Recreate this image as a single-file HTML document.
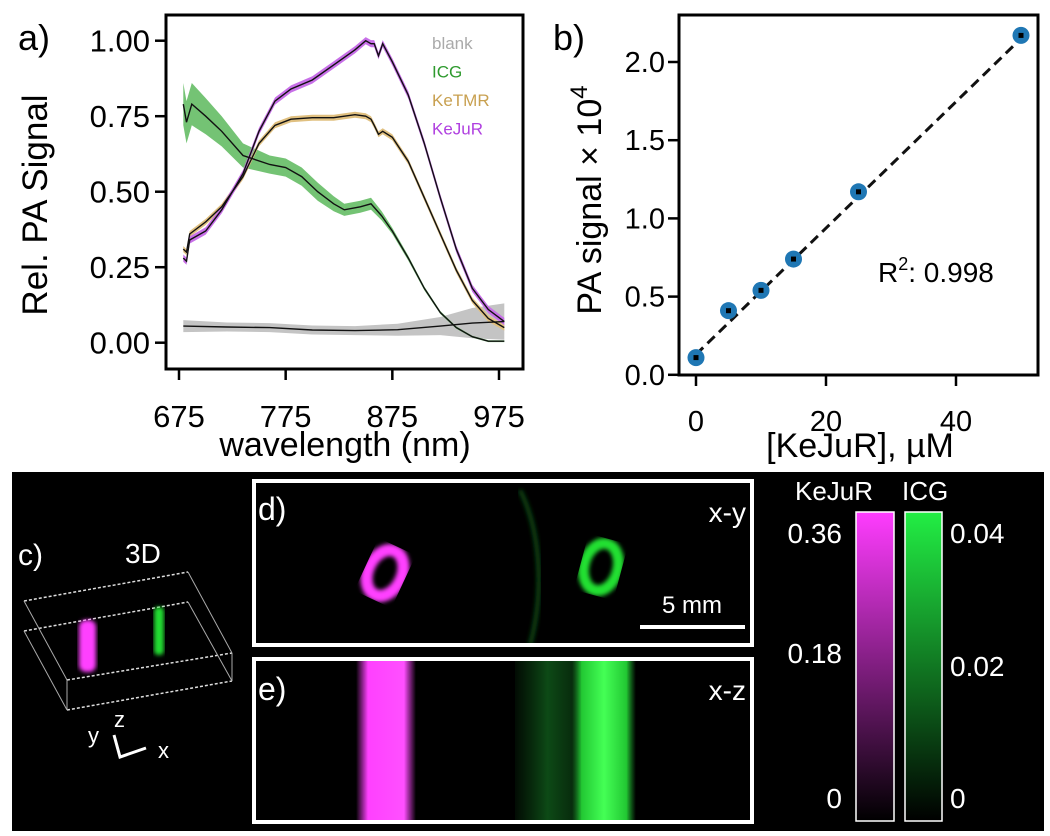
<!DOCTYPE html>
<html><head><meta charset="utf-8"><style>
html,body{margin:0;padding:0;background:#fff;}
svg{display:block;font-family:"Liberation Sans",Arial,sans-serif;}
</style></head><body>
<svg id="fig" width="1050" height="836" viewBox="0 0 1050 836">
<defs>
<filter id="blur2"><feGaussianBlur stdDeviation="2"/></filter>
<linearGradient id="gMag" x1="0" y1="1" x2="0" y2="0"><stop offset="0" stop-color="#000"/><stop offset="1" stop-color="#ff3cff"/></linearGradient>
<linearGradient id="gGrn" x1="0" y1="1" x2="0" y2="0"><stop offset="0" stop-color="#000"/><stop offset="1" stop-color="#22ee44"/></linearGradient>
<linearGradient id="colMag" x1="0" y1="0" x2="1" y2="0"><stop offset="0" stop-color="#ff40ff" stop-opacity="0"/><stop offset="0.2" stop-color="#ff40ff"/><stop offset="0.8" stop-color="#ff50ff"/><stop offset="1" stop-color="#ff40ff" stop-opacity="0"/></linearGradient>
<linearGradient id="colGrn" x1="0" y1="0" x2="1" y2="0"><stop offset="0" stop-color="#1a9a2a" stop-opacity="0"/><stop offset="0.15" stop-color="#22c833"/><stop offset="0.5" stop-color="#44ff55"/><stop offset="0.85" stop-color="#22c833"/><stop offset="1" stop-color="#1a9a2a" stop-opacity="0"/></linearGradient>
<linearGradient id="faint" x1="0" y1="0" x2="1" y2="0"><stop offset="0" stop-color="#0b3d12" stop-opacity="0.2"/><stop offset="0.5" stop-color="#0d4a16"/><stop offset="1" stop-color="#0b3d12" stop-opacity="0.6"/></linearGradient>
</defs>
<g id="panelA"></g>
<g id="panelB"></g>
<g id="bottom">
  <rect x="12" y="472" width="1032" height="359" fill="#000"/>
  <g>
    <text x="18" y="565" fill="#fff" font-size="30">c)</text>
    <text x="125" y="563" fill="#fff" font-size="28">3D</text>
    <g stroke="#ddd" stroke-width="1.5" fill="none" stroke-dasharray="3,2">
      <line x1="24" y1="601" x2="188" y2="572"/>
      <line x1="24" y1="631" x2="188" y2="602"/>
      <line x1="67" y1="680" x2="232" y2="653"/>
      <line x1="67" y1="710" x2="232" y2="681"/>
    </g>
    <g stroke="#aaa" stroke-width="1" fill="none">
      <line x1="24" y1="601" x2="67" y2="680"/>
      <line x1="24" y1="631" x2="67" y2="710"/>
      <line x1="188" y1="572" x2="232" y2="653"/>
      <line x1="188" y1="602" x2="232" y2="681"/>
      <line x1="67" y1="680" x2="67" y2="710"/>
      <line x1="232" y1="653" x2="232" y2="681"/>
    </g>
    <rect x="79" y="620" width="17" height="52" rx="7" fill="#ff40ff" filter="url(#blur2)"/>
    <rect x="154" y="607" width="10" height="48" rx="4" fill="#22dd33" filter="url(#blur2)"/>
    <g stroke="#fff" stroke-width="3" fill="none"><polyline points="114,735 120,757 146,748"/></g>
    <text x="88" y="743" fill="#fff" font-size="22">y</text>
    <text x="114" y="727" fill="#fff" font-size="22">z</text>
    <text x="158" y="758" fill="#fff" font-size="22">x</text>
  </g>
  <g>
    <path d="M520,490 C540,530 545,590 530,645" stroke="#0c4a14" stroke-width="4" fill="none" filter="url(#blur2)"/>
    <ellipse cx="385" cy="573" rx="17" ry="24" fill="none" stroke="#ff40ff" stroke-width="12" transform="rotate(25 385 573)" filter="url(#blur2)"/>
    <ellipse cx="601" cy="567" rx="17" ry="24" fill="none" stroke="#22e033" stroke-width="11" transform="rotate(15 601 567)" filter="url(#blur2)"/>
    <rect x="254" y="481" width="498" height="164" fill="none" stroke="#fff" stroke-width="4"/>
    <text x="258" y="520" fill="#fff" font-size="32">d)</text>
    <text x="746" y="522" fill="#fff" font-size="28" text-anchor="end">x-y</text>
    <line x1="640" y1="627" x2="745" y2="627" stroke="#fff" stroke-width="4"/>
    <text x="692" y="613" fill="#fff" font-size="24" text-anchor="middle">5 mm</text>
  </g>
  <g>
    <rect x="515" y="661" width="65" height="160" fill="url(#faint)"/>
    <rect x="356" y="661" width="60" height="160" fill="url(#colMag)"/>
    <rect x="572" y="661" width="64" height="160" fill="url(#colGrn)"/>
    <rect x="254" y="659" width="498" height="163" fill="none" stroke="#fff" stroke-width="4"/>
    <text x="258" y="700" fill="#fff" font-size="32">e)</text>
    <text x="746" y="700" fill="#fff" font-size="28" text-anchor="end">x-z</text>
  </g>
  <g>
    <text x="795" y="500" fill="#fff" font-size="26">KeJuR</text>
    <text x="902" y="500" fill="#fff" font-size="26">ICG</text>
    <rect x="856" y="512" width="38" height="309" fill="url(#gMag)" stroke="#fff" stroke-width="1.5"/>
    <rect x="905" y="512" width="37" height="309" fill="url(#gGrn)" stroke="#fff" stroke-width="1.5"/>
    <g fill="#fff" font-size="28" text-anchor="end">
      <text x="842" y="543">0.36</text>
      <text x="842" y="663">0.18</text>
      <text x="842" y="808">0</text>
    </g>
    <g fill="#fff" font-size="28">
      <text x="950" y="543">0.04</text>
      <text x="950" y="676">0.02</text>
      <text x="950" y="808">0</text>
    </g>
  </g>
</g>
</svg>
<script>
// ---------- Panel A data ----------
const wlIcg   = [679,682,687,700,715,735,760,775,790,805,820,830,845,855,865,875,890,905,920,935,950,965,980];
const icgVals = [0.79,0.73,0.79,0.75,0.70,0.62,0.59,0.58,0.55,0.50,0.46,0.44,0.45,0.46,0.42,0.37,0.28,0.18,0.10,0.05,0.02,0.005,0.005];
const icgErr  = [0.07,0.07,0.07,0.06,0.05,0.04,0.03,0.03,0.03,0.03,0.025,0.02,0.02,0.02,0.015,0.01,0.008,0.006,0.005,0.004,0.003,0.003,0.003];
const wlDye   = [679,682,685,700,715,735,750,765,780,800,820,840,850,855,858,862,866,875,890,905,920,935,950,965,980];
const ketmrVals=[0.31,0.30,0.36,0.40,0.45,0.55,0.66,0.72,0.74,0.745,0.745,0.755,0.75,0.74,0.72,0.69,0.70,0.68,0.60,0.48,0.36,0.24,0.14,0.08,0.05];
const kejurVals=[0.28,0.27,0.34,0.37,0.44,0.56,0.70,0.80,0.84,0.87,0.92,0.97,1.00,0.99,0.99,0.95,0.99,0.93,0.82,0.66,0.48,0.31,0.18,0.11,0.07];
const wlBlank = [679,720,760,800,840,880,920,950,980];
const blankVals=[0.055,0.052,0.05,0.042,0.04,0.043,0.055,0.065,0.07];
const blankErr = [0.02,0.015,0.015,0.015,0.015,0.02,0.03,0.05,0.06];
const xTicksA = [675,775,875,975];
const yTicksA = [0,0.25,0.5,0.75,1.0];
const yTickLabelsA = ["0.00","0.25","0.50","0.75","1.00"];
const legendNames = ["blank","ICG","KeTMR","KeJuR"];
// ---------- Panel B data ----------
const conc   = [0,5,10,15,25,50];
const signal = [0.11,0.41,0.54,0.74,1.17,2.17];
const fitLine = [0.13,2.15];
const xTicksB = [0,20,40];
const yTicksB = [0,0.5,1.0,1.5,2.0];
const yTickLabelsB = ["0.0","0.5","1.0","1.5","2.0"];

const NS="http://www.w3.org/2000/svg";
function mk(tag, attrs, parent, text){const e=document.createElementNS(NS,tag);for(const k in attrs)e.setAttribute(k,attrs[k]);if(text!==undefined)e.textContent=text;parent.appendChild(e);return e;}

const A={x0:166,x1:523,y0:15,y1:369};
const xA=v=>179+(v-675)*(499-179)/300;
const yA=v=>342.7-v*(342.7-40.7);
const gA=document.getElementById('panelA');
function pathLine(xs,ys,fx,fy){return xs.map((x,i)=>(i?'L':'M')+fx(x).toFixed(1)+','+fy(ys[i]).toFixed(1)).join(' ');}
function band(xs,ys,err,fx,fy){let up=xs.map((x,i)=>fx(x).toFixed(1)+','+fy(ys[i]+err[i]).toFixed(1));let dn=xs.map((x,i)=>fx(x).toFixed(1)+','+fy(ys[i]-err[i]).toFixed(1)).reverse();return 'M'+up.join(' L')+' L'+dn.join(' L')+'Z';}
let e;
e=mk('path',{d:band(wlBlank,blankVals,blankErr,xA,yA),fill:'#c4c4c4'},gA);


e=mk('path',{d:band(wlIcg,icgVals,icgErr,xA,yA),fill:'#5cb85c',opacity:'0.85'},gA);


const errK=ketmrVals.map(()=>0.01), errJ=kejurVals.map(()=>0.012);
e=mk('path',{d:band(wlDye,ketmrVals,errK,xA,yA),fill:'#e0c080'},gA);


e=mk('path',{d:band(wlDye,kejurVals,errJ,xA,yA),fill:'#c870e8'},gA);


[[wlBlank,blankVals,'blank-line'],[wlIcg,icgVals,'icg-line'],[wlDye,ketmrVals,'ketmr-line'],[wlDye,kejurVals,'kejur-line']].forEach(s=>{
  const l=mk('path',{d:pathLine(s[0],s[1],xA,yA),fill:'none',stroke:'#111','stroke-width':1.4},gA);
  
  
});
e=mk('rect',{x:A.x0,y:A.y0,width:A.x1-A.x0,height:A.y1-A.y0,fill:'none',stroke:'#000','stroke-width':3},gA);


xTicksA.forEach(t=>{
  const tk=mk('line',{x1:xA(t),x2:xA(t),y1:A.y1,y2:A.y1+11,stroke:'#000','stroke-width':2.5},gA);
  
  
  const lb=mk('text',{x:xA(t),y:427,'font-size':31,'text-anchor':'middle'},gA,String(t));
  
  
});
yTicksA.forEach((t,i)=>{
  const tk=mk('line',{x1:A.x0-11,x2:A.x0,y1:yA(t),y2:yA(t),stroke:'#000','stroke-width':2.5},gA);
  
  
  const lb=mk('text',{x:A.x0-16,y:yA(t)+11,'font-size':31,'text-anchor':'end'},gA,yTickLabelsA[i]);
  
  
});
e=mk('text',{x:345,y:456,'font-size':34,'text-anchor':'middle'},gA,'wavelength (nm)');


e=mk('text',{x:0,y:0,'font-size':35,'text-anchor':'middle',transform:'translate(47,205) rotate(-90)'},gA,'Rel. PA Signal');


e=mk('text',{x:18,y:50,'font-size':36},gA,'a)');


const legCols=['#aaa','#2e9a2e','#c8a050','#b040e0'];
legendNames.forEach((n,i)=>{
  const t=mk('text',{x:432,y:49+i*28.5,'font-size':17,fill:legCols[i]},gA,n);
  
  
});

const B={x0:679,x1:1038,y0:15,y1:375};
const xB=v=>696+v*6.5;
const yB=v=>374.8-v*(374.8-62)/2;
const gB=document.getElementById('panelB');
e=mk('line',{x1:xB(0),y1:yB(fitLine[0]),x2:xB(50),y2:yB(fitLine[1]),stroke:'#111','stroke-width':3,'stroke-dasharray':'10,6'},gB);


conc.forEach((c,i)=>{
  const p=mk('circle',{cx:xB(c),cy:yB(signal[i]),r:8.5,fill:'#1f77b4'},gB);
  
  
  const m=mk('rect',{x:xB(c)-2.5,y:yB(signal[i])-2.5,width:5,height:5,fill:'#000'},gB);
  
  
});
e=mk('rect',{x:B.x0,y:B.y0,width:B.x1-B.x0,height:B.y1-B.y0,fill:'none',stroke:'#000','stroke-width':3},gB);


xTicksB.forEach(t=>{
  const tk=mk('line',{x1:xB(t),x2:xB(t),y1:B.y1,y2:B.y1+11,stroke:'#000','stroke-width':2.5},gB);
  
  
  const lb=mk('text',{x:xB(t),y:431,'font-size':29,'text-anchor':'middle'},gB,String(t));
  
  
});
yTicksB.forEach((t,i)=>{
  const tk=mk('line',{x1:B.x0-11,x2:B.x0,y1:yB(t),y2:yB(t),stroke:'#000','stroke-width':2.5},gB);
  
  
  const lb=mk('text',{x:B.x0-14,y:yB(t)+10,'font-size':29,'text-anchor':'end'},gB,yTickLabelsB[i]);
  
  
});
e=mk('text',{x:860,y:457,'font-size':34,'text-anchor':'middle'},gB,'[KeJuR], µM');


const yt=mk('text',{x:0,y:0,'font-size':34,'text-anchor':'middle',transform:'translate(601,200) rotate(-90)'},gB);


mk('tspan',{},yt,'PA signal × 10');
mk('tspan',{dy:-14,'font-size':24},yt,'4');
e=mk('text',{x:553,y:50,'font-size':36},gB,'b)');


const r2=mk('text',{x:878,y:282,'font-size':28},gB);


mk('tspan',{},r2,'R');
mk('tspan',{dy:-12,'font-size':18},r2,'2');
mk('tspan',{dy:12},r2,': 0.998');
</script>
</body></html>
